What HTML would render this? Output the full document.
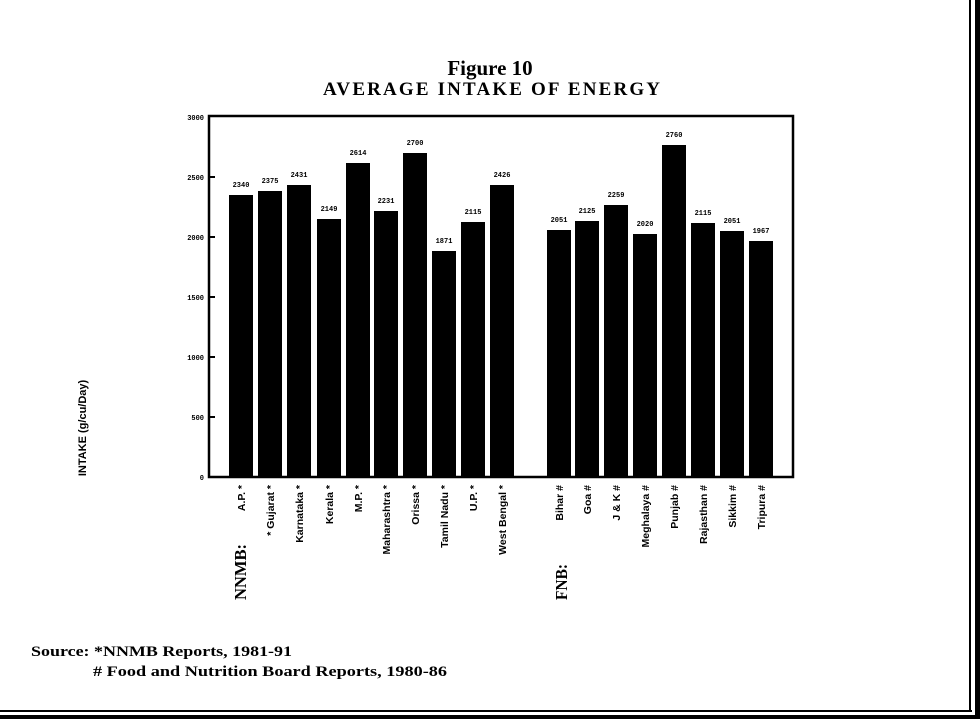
<!DOCTYPE html>
<html><head><meta charset="utf-8"><style>html,body{margin:0;padding:0;background:#fff}svg{display:block}</style></head>
<body>
<svg width="980" height="719" viewBox="0 0 980 719" xmlns="http://www.w3.org/2000/svg">
<rect width="980" height="719" fill="#fff"/>
<!-- frame -->
<line x1="970" y1="0" x2="970" y2="712" stroke="#000" stroke-width="2"/>
<rect x="975" y="0" width="5" height="719" fill="#000"/>
<line x1="0" y1="711" x2="972" y2="711" stroke="#000" stroke-width="2"/>
<rect x="0" y="715" width="980" height="4" fill="#000"/>
<!-- title -->
<text x="490" y="75" text-anchor="middle" font-family="Liberation Serif, serif" font-size="21" font-weight="bold">Figure 10</text>
<text x="323" y="95" font-family="Liberation Serif, serif" font-size="19" font-weight="bold" textLength="337" lengthAdjust="spacing">AVERAGE INTAKE OF ENERGY</text>
<!-- axes -->
<rect x="209" y="116" width="584" height="361" fill="none" stroke="#000" stroke-width="2.5"/>
<g stroke="#000" stroke-width="2">
<line x1="209" y1="177" x2="215" y2="177"/><line x1="209" y1="237" x2="215" y2="237"/>
<line x1="209" y1="297" x2="215" y2="297"/><line x1="209" y1="357" x2="215" y2="357"/>
<line x1="209" y1="417" x2="215" y2="417"/>
</g>
<g font-family="Liberation Mono, monospace" font-size="7" font-weight="bold" text-anchor="end">
<text x="204" y="120">3000</text><text x="204" y="180">2500</text><text x="204" y="240">2000</text>
<text x="204" y="300">1500</text><text x="204" y="360">1000</text><text x="204" y="420">500</text>
<text x="204" y="480">0</text>
</g>
<!-- bars -->
<g fill="#000">
<rect x="229" y="195" width="24" height="282"/>
<rect x="258" y="191" width="24" height="286"/>
<rect x="287" y="185" width="24" height="292"/>
<rect x="317" y="219" width="24" height="258"/>
<rect x="346" y="163" width="24" height="314"/>
<rect x="374" y="211" width="24" height="266"/>
<rect x="403" y="153" width="24" height="324"/>
<rect x="432" y="251" width="24" height="226"/>
<rect x="461" y="222" width="24" height="255"/>
<rect x="490" y="185" width="24" height="292"/>
<rect x="547" y="230" width="24" height="247"/>
<rect x="575" y="221" width="24" height="256"/>
<rect x="604" y="205" width="24" height="272"/>
<rect x="633" y="234" width="24" height="243"/>
<rect x="662" y="145" width="24" height="332"/>
<rect x="691" y="223" width="24" height="254"/>
<rect x="720" y="231" width="24" height="246"/>
<rect x="749" y="241" width="24" height="236"/>
</g>
<g font-family="Liberation Mono, monospace" font-size="7" font-weight="bold" text-anchor="middle">
<text x="241" y="187">2340</text><text x="270" y="183">2375</text><text x="299" y="177">2431</text>
<text x="329" y="211">2149</text><text x="358" y="155">2614</text><text x="386" y="203">2231</text>
<text x="415" y="145">2700</text><text x="444" y="243">1871</text><text x="473" y="214">2115</text>
<text x="502" y="177">2426</text>
<text x="559" y="222">2051</text><text x="587" y="213">2125</text><text x="616" y="197">2259</text>
<text x="645" y="226">2020</text><text x="674" y="137">2760</text><text x="703" y="215">2115</text>
<text x="732" y="223">2051</text><text x="761" y="233">1967</text>
</g>
<!-- x labels -->
<g font-family="Liberation Sans, sans-serif" font-size="10.5" font-weight="bold" text-anchor="end">
<text transform="translate(245,485) rotate(-90)">A.P. *</text>
<text transform="translate(274,485) rotate(-90)">* Gujarat *</text>
<text transform="translate(303,485) rotate(-90)">Karnataka *</text>
<text transform="translate(333,485) rotate(-90)">Kerala *</text>
<text transform="translate(362,485) rotate(-90)">M.P. *</text>
<text transform="translate(390,485) rotate(-90)">Maharashtra *</text>
<text transform="translate(419,485) rotate(-90)">Orissa *</text>
<text transform="translate(448,485) rotate(-90)">Tamil Nadu *</text>
<text transform="translate(477,485) rotate(-90)">U.P. *</text>
<text transform="translate(506,485) rotate(-90)">West Bengal *</text>
<text transform="translate(563,485) rotate(-90)">Bihar #</text>
<text transform="translate(591,485) rotate(-90)">Goa #</text>
<text transform="translate(620,485) rotate(-90)">J &amp; K #</text>
<text transform="translate(649,485) rotate(-90)">Meghalaya #</text>
<text transform="translate(678,485) rotate(-90)">Punjab #</text>
<text transform="translate(707,485) rotate(-90)">Rajasthan #</text>
<text transform="translate(736,485) rotate(-90)">Sikkim #</text>
<text transform="translate(765,485) rotate(-90)">Tripura #</text>
</g>
<g font-family="Liberation Serif, serif" font-size="17" font-weight="bold">
<text transform="translate(246,600) rotate(-90)" textLength="56" lengthAdjust="spacingAndGlyphs">NNMB:</text>
<text transform="translate(567,600) rotate(-90)" textLength="36" lengthAdjust="spacingAndGlyphs">FNB:</text>
</g>
<text transform="translate(86,428) rotate(-90)" text-anchor="middle" font-family="Liberation Sans, sans-serif" font-size="11" font-weight="bold">INTAKE (g/cu/Day)</text>
<!-- source -->
<g font-family="Liberation Serif, serif" font-size="15" font-weight="bold">
<text x="31" y="656" textLength="261" lengthAdjust="spacingAndGlyphs">Source: *NNMB Reports, 1981-91</text>
<text x="93" y="676" textLength="354" lengthAdjust="spacingAndGlyphs"># Food and Nutrition Board Reports, 1980-86</text>
</g>
</svg>
</body></html>
